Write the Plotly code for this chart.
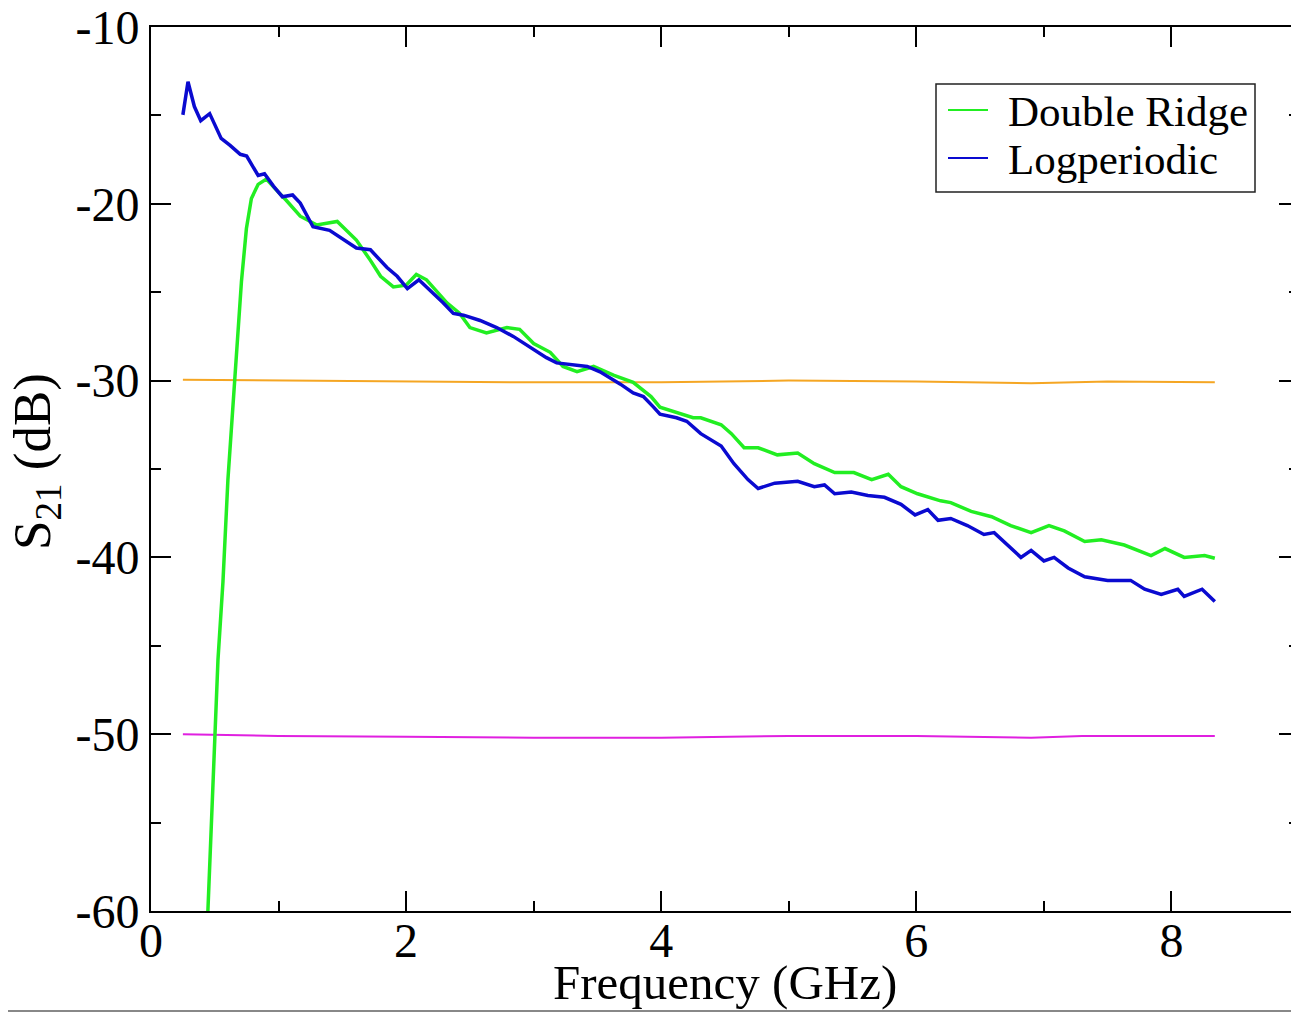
import plotly.graph_objects as go

# Logperiodic (blue)
logp_x = [0.25, 0.29, 0.34, 0.39, 0.46, 0.55, 0.62, 0.70, 0.75, 0.84, 0.89, 0.96, 1.03, 1.11, 1.17,
          1.27, 1.40, 1.48, 1.61, 1.72, 1.85, 1.93, 2.01, 2.10, 2.19, 2.29, 2.37, 2.45, 2.58, 2.71,
          2.84, 2.97, 3.10, 3.18, 3.29, 3.42, 3.52, 3.68, 3.78, 3.86, 3.94, 3.99, 4.12, 4.20, 4.31,
          4.47, 4.57, 4.68, 4.76, 4.89, 5.07, 5.20, 5.28, 5.36, 5.49, 5.62, 5.75, 5.88, 5.99, 6.09,
          6.17, 6.27, 6.40, 6.53, 6.61, 6.82, 6.90, 7.00, 7.08, 7.19, 7.32, 7.50, 7.68, 7.79, 7.92,
          8.05, 8.10, 8.24, 8.34]
logp_y = [-14.97, -13.1, -14.5, -15.3, -14.9, -16.3, -16.7, -17.2, -17.3, -18.4, -18.3, -19.0, -19.6, -19.5, -19.96,
          -21.3, -21.5, -21.9, -22.5, -22.6, -23.6, -24.1, -24.8, -24.3, -24.9, -25.6, -26.2, -26.3, -26.6, -27.0,
          -27.5, -28.1, -28.7, -29.0, -29.1, -29.2, -29.5, -30.2, -30.7, -30.9, -31.5, -31.9, -32.1, -32.3, -33.0,
          -33.7, -34.7, -35.6, -36.1, -35.8, -35.7, -36.0, -35.9, -36.4, -36.3, -36.5, -36.6, -37.0, -37.6, -37.3,
          -37.9, -37.8, -38.2, -38.7, -38.6, -40.0, -39.6, -40.2, -40.0, -40.6, -41.1, -41.3, -41.3, -41.8, -42.1,
          -41.8, -42.2, -41.8, -42.5]

# Double Ridge (green)
dr_x = [0.446, 0.473, 0.499, 0.525, 0.564, 0.603, 0.656, 0.709, 0.748, 0.787, 0.84, 0.905, 0.98, 1.06, 1.17,
        1.30, 1.46, 1.61, 1.72, 1.80, 1.90, 2.00, 2.08, 2.16, 2.32, 2.42, 2.50, 2.63, 2.79, 2.89,
        3.00, 3.13, 3.23, 3.34, 3.47, 3.63, 3.78, 3.92, 3.99, 4.12, 4.25, 4.31, 4.47, 4.55, 4.65,
        4.76, 4.91, 5.07, 5.20, 5.36, 5.51, 5.65, 5.78, 5.88, 6.01, 6.19, 6.27, 6.43, 6.59, 6.74,
        6.90, 7.04, 7.16, 7.32, 7.45, 7.63, 7.84, 7.95, 8.10, 8.26, 8.34]
dr_y = [-60.0, -55.1, -50.0, -45.8, -41.4, -35.6, -30.0, -24.4, -21.4, -19.7, -18.9, -18.6, -19.2, -19.8, -20.7,
        -21.2, -21.0, -22.05, -23.2, -24.1, -24.7, -24.6, -24.0, -24.3, -25.6, -26.2, -27.0, -27.3, -27.0, -27.1,
        -27.9, -28.4, -29.2, -29.5, -29.2, -29.7, -30.1, -30.9, -31.5, -31.8, -32.1, -32.1, -32.5, -33.0, -33.8,
        -33.8, -34.2, -34.1, -34.7, -35.2, -35.2, -35.6, -35.3, -36.0, -36.4, -36.8, -36.9, -37.4, -37.7, -38.2,
        -38.6, -38.2, -38.5, -39.1, -39.0, -39.3, -39.9, -39.5, -40.0, -39.9, -40.05]

# Reference levels (orange, magenta)
ref30_x = [0.25, 1.0, 2.0, 3.0, 3.5, 4.0, 5.0, 6.0, 6.9, 7.5, 8.34]
ref30_y = [-29.95, -30.0, -30.05, -30.1, -30.1, -30.1, -30.0, -30.05, -30.15, -30.05, -30.1]
ref50_x = [0.25, 1.0, 2.0, 3.0, 4.0, 5.0, 6.0, 6.9, 7.3, 8.34]
ref50_y = [-50.0, -50.1, -50.15, -50.2, -50.2, -50.1, -50.1, -50.2, -50.1, -50.1]

# Tick labels
x_tickvals = [0, 2, 4, 6, 8]
x_ticktext = ["0", "2", "4", "6", "8"]
y_tickvals = [-60, -50, -40, -30, -20, -10]
y_ticktext = ["-60", "-50", "-40", "-30", "-20", "-10"]

FONT = "Liberation Serif"
GREEN = "#22ee22"
BLUE = "#0a0ad0"

fig = go.Figure()
fig.add_trace(go.Scatter(x=ref30_x, y=ref30_y, mode="lines", showlegend=False,
                         line=dict(color="#f5a623", width=2)))
fig.add_trace(go.Scatter(x=ref50_x, y=ref50_y, mode="lines", showlegend=False,
                         line=dict(color="#e020e0", width=2)))
fig.add_trace(go.Scatter(x=dr_x, y=dr_y, mode="lines", name="Double Ridge", showlegend=False,
                         line=dict(color=GREEN, width=3.5)))
fig.add_trace(go.Scatter(x=logp_x, y=logp_y, mode="lines", name="Logperiodic", showlegend=False,
                         line=dict(color=BLUE, width=3.5)))

axis_common = dict(showline=True, linecolor="black", linewidth=2, mirror="ticks",
                   ticks="inside", ticklen=20, tickwidth=2, tickcolor="black",
                   showgrid=False, zeroline=False, ticklabeloverflow="allow",
                   automargin=False,
                   tickfont=dict(family=FONT, size=48, color="black"))

fig.update_xaxes(range=[0, 9], tickvals=x_tickvals, ticktext=x_ticktext,
                 ticklabelstandoff=-14,
                 minor=dict(dtick=1, tick0=0, ticks="inside", ticklen=10, tickwidth=2, tickcolor="black"),
                 **axis_common)
fig.update_yaxes(range=[-60, -10], tickvals=y_tickvals, ticktext=y_ticktext,
                 minor=dict(dtick=5, tick0=-60, ticks="inside", ticklen=10, tickwidth=2, tickcolor="black"),
                 **axis_common)

W, H = 1299, 1012
L, R, T, B = 143, 8, 19, 109
plot_w, plot_h = W - L - R, H - T - B
OFF = 8  # page body margin


def px(xp):
    return (xp - OFF - L) / plot_w


def py(yp):
    return (T + plot_h - (yp - OFF)) / plot_h


annotations = [
    dict(text="Frequency (GHz)", x=px(725), y=py(983),
         xref="paper", yref="paper", xanchor="center", yanchor="middle",
         showarrow=False, font=dict(family=FONT, size=49, color="black")),
    dict(text="S<sub>21</sub> (dB)", x=px(36), y=py(462),
         xref="paper", yref="paper", xanchor="center", yanchor="middle",
         textangle=-90, showarrow=False, font=dict(family=FONT, size=53, color="black")),
]

shapes = [
    # legend frame
    dict(type="rect", xref="paper", yref="paper", x0=px(936), x1=px(1255), y0=py(192), y1=py(84),
         line=dict(color="#222222", width=1.5), fillcolor="white", layer="above"),
    # bottom grey border line
    dict(type="line", xref="paper", yref="paper", x0=px(0), x1=px(1310), y0=py(1011), y1=py(1011),
         line=dict(color="#888888", width=2)),
]

legend_rows = [("Double Ridge", GREEN, 110), ("Logperiodic", BLUE, 158)]
for name, color, yrow in legend_rows:
    shapes.append(dict(type="line", xref="paper", yref="paper", x0=px(948), x1=px(988),
                       y0=py(yrow), y1=py(yrow), line=dict(color=color, width=2), layer="above"))
    annotations.append(dict(text=name, x=px(1006), y=py(yrow + 1), xref="paper", yref="paper",
                            xanchor="left", yanchor="middle", showarrow=False,
                            font=dict(family=FONT, size=43, color="black")))

fig.update_layout(
    width=W, height=H,
    margin=dict(l=L, r=R, t=T, b=B),
    plot_bgcolor="white", paper_bgcolor="white",
    font=dict(family=FONT, color="black"),
    showlegend=False,
    annotations=annotations,
    shapes=shapes,
)

fig.write_html("out.html")
